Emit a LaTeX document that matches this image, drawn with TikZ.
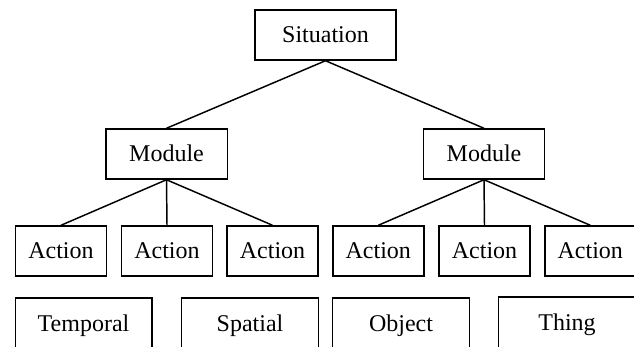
\documentclass[tikz,border=0pt]{standalone}
\usepackage{fontspec}
\setmainfont{Liberation Serif}
\begin{document}
\begin{tikzpicture}[x=0.75pt,y=-0.75pt,
		box/.style={draw,line width=1.1pt,inner sep=0pt,text height=11.9pt,text depth=0pt,font=\fontsize{18}{20}\selectfont},
		situationbox/.style={box,minimum width=105.75pt,minimum height=37.5pt},
		modulebox/.style={box,minimum width=91.1pt,minimum height=37.5pt},
		actionbox/.style={box,minimum width=68.25pt,minimum height=37.5pt},
		aspectbox/.style={box,minimum width=102.4pt,minimum height=39pt},
		link/.style={line width=1.1pt}]
		\useasboundingbox ( 0, 0 ) rectangle ( 634, 346 );
		\clip ( 0, 0 ) rectangle ( 634, 346 );

		% ситуация
		\node [situationbox] (situation) at ( 325.5, 35 ) {Situation};

		% модули
		\node [modulebox] (module1) at ( 166.5, 154 ) {Module};
		\node [modulebox] (module2) at ( 484, 154 ) {Module};
		\draw [link] (situation.south) -- (module1.north);
		\draw [link] (situation.south) -- (module2.north);

		% действия модуля 1
		\node [actionbox] (action1) at ( 61, 251 ) {Action};
		\node [actionbox] (action2) at ( 167, 251 ) {Action};
		\node [actionbox] (action3) at ( 272.5, 251 ) {Action};
		\draw [link] (module1.south) -- (action1.north);
		\draw [link] (module1.south) -- (action2.north);
		\draw [link] (module1.south) -- (action3.north);

		% действия модуля 2
		\node [actionbox] (action4) at ( 378.3, 251 ) {Action};
		\node [actionbox] (action5) at ( 484.5, 251 ) {Action};
		\node [actionbox] (action6) at ( 590.3, 251 ) {Action};
		\draw [link] (module2.south) -- (action4.north);
		\draw [link] (module2.south) -- (action5.north);
		\draw [link] (module2.south) -- (action6.north);

		% аспекты
		\node [aspectbox] (temporal) at ( 83.5, 324 ) {Temporal};
		\node [aspectbox] (spatial) at ( 250, 324 ) {Spatial};
		\node [aspectbox] (object) at ( 401, 324 ) {Object};
		\node [aspectbox] (thing) at ( 567, 323 ) {Thing};
	\end{tikzpicture}
\end{document}
